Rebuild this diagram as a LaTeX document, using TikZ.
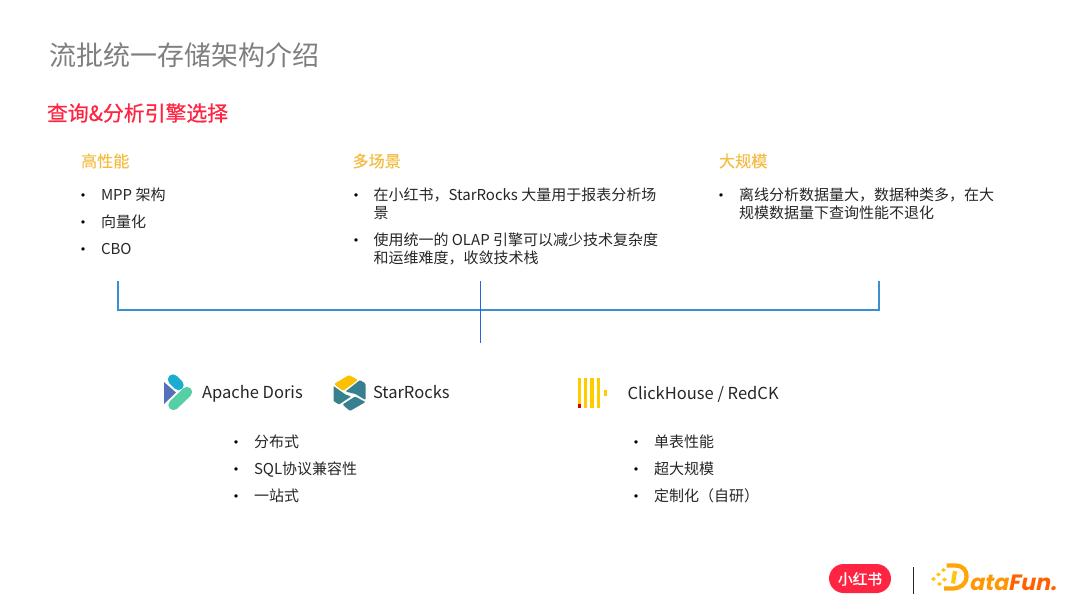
\documentclass[tikz,border=0pt]{standalone}
\usepackage{fontspec}
\setmainfont{Noto Sans CJK SC}
\newfontfamily\dfun{Poppins}
\newfontfamily\medsub[FakeBold=0.6]{Noto Sans CJK SC}
\newfontfamily\heavy[FakeBold=1.2]{Noto Sans CJK SC}
\newfontfamily\medhead[FakeBold=0.25]{Noto Sans CJK SC}
\definecolor{titlegray}{HTML}{7F7F7F}
\definecolor{redsub}{HTML}{FF2442}
\definecolor{headgold}{HTML}{F4BC42}
\definecolor{txt}{HTML}{262626}
\definecolor{linkblue}{HTML}{3A8FD0}
\definecolor{dblue}{HTML}{5470B8}
\definecolor{dcyan}{HTML}{1AADCF}
\definecolor{dgreen}{HTML}{55CFA5}
\definecolor{steal}{HTML}{36808F}
\definecolor{syellow}{HTML}{FBC000}
\definecolor{chy}{HTML}{FFCC00}
\definecolor{dforange}{HTML}{FF8A00}
\definecolor{dfyellow}{HTML}{FFC414}
\tikzset{
  x=0.75pt,y=-0.75pt,
  lab/.style={anchor=west,inner sep=0pt,outer sep=0pt,align=left},
  line/.style={anchor=base west,inner sep=0pt,outer sep=0pt},
  body/.style={line,text=txt,font=\fontsize{11.25pt}{13.5pt}\selectfont},
  bodytwo/.style={lab,text=txt,font=\fontsize{11.25pt}{13.5pt}\selectfont},
  head/.style={lab,text=headgold,font=\medhead\fontsize{12.1pt}{14pt}\selectfont},
  logotext/.style={line,text=txt,font=\fontsize{12.4pt}{15pt}\selectfont},
  bul/.style={anchor=base,inner sep=0pt,text=black,font=\fontsize{12pt}{12pt}\selectfont},
  conn/.style={draw=linkblue,line width=1.3pt},
}
\begin{document}
\begin{tikzpicture}
\useasboundingbox (0,0) rectangle (1080,608);
\node[lab,text=titlegray,font=\fontsize{20.25pt}{24pt}\selectfont] (title) at (49.5,55) {流批统一存储架构介绍};
\node[lab,text=redsub,font=\medsub\fontsize{15.65pt}{18pt}\selectfont] (sub) at (47,113) {查询\&分析引擎选择};

\node[head] (h1) at (81,161) {高性能};
\node[head] (h2) at (352.5,161) {多场景};
\node[head] (h3) at (719,161) {大规模};

\node[bul] (b11) at (83,201) {•};
\node[body] (t11) at (101,200) {MPP 架构};
\node[bul] (b12) at (83,228) {•};
\node[body] (t12) at (101,227) {向量化};
\node[bul] (b13) at (83,255) {•};
\node[body] (t13) at (101,254) {CBO};

\node[bul] (b21) at (356,201) {•};
\node[bodytwo] (t21) at (373.5,204) {在小红书，StarRocks 大量用于报表分析场\\景};
\node[bul] (b22) at (356,246) {•};
\node[bodytwo] (t22) at (373.5,249) {使用统一的 OLAP 引擎可以减少技术复杂度\\和运维难度，收敛技术栈};

\node[bul] (b31) at (721,201) {•};
\node[bodytwo] (t31) at (739,204) {离线分析数据量大，数据种类多，在大\\规模数据量下查询性能不退化};

% connector
\coordinate (ca) at (118,281);
\coordinate (cb) at (118,310);
\coordinate (cc) at (879,310);
\coordinate (cd) at (879,281);
\coordinate (ce) at (480.5,281);
\coordinate (cf) at (480.5,343);
\draw[conn,line join=miter] (ca) -- (cb) -- (cc) -- (cd);
\draw[draw=linkblue!70!blue,line width=0.9pt] (ce) -- (cf);

% Doris logo
\fill[dblue] (164,382) -- (176,392.5) -- (164,404) -- cycle;
\draw[dcyan,line width=7.8pt,line cap=round] (173,379.5) -- (178.5,385);
\draw[dgreen,line width=7.8pt,line cap=round] (187,392) -- (173.5,405);
\node[logotext] (n1) at (202,398.5) {Apache Doris};

% StarRocks logo
\fill[syellow,rounded corners=1pt] (334,384) -- (349,375) -- (358,380) -- (343,391) -- cycle;
\fill[steal,rounded corners=0.6pt] (333.5,386) -- (345.5,394.5) -- (351,396.5) -- (339,404.5) -- (333.5,401) -- cycle;
\fill[steal,rounded corners=0.8pt] (360,380) -- (365.5,383.5) -- (365.5,400) -- (355.5,394) -- (345.5,391.5) -- cycle;
\fill[steal,rounded corners=0.8pt] (342.5,404.5) -- (355,396.5) -- (365.5,402) -- (350,411) -- cycle;
\node[logotext] (n2) at (373,398.5) {StarRocks};

% ClickHouse logo
\foreach \xx in {577.8,583.6,590.2,597} \fill[chy] (\xx,378) rectangle +(3.4,30);
\fill[chy] (603.8,390) rectangle (607,396);
\fill[red!85!black] (577.8,403.8) rectangle (581.2,408);
\node[logotext] (n3) at (627.5,399) {ClickHouse / RedCK};

\node[bul] (b41) at (236,448) {•};
\node[body] (t41) at (254,447) {分布式};
\node[bul] (b42) at (236,475) {•};
\node[body] (t42) at (254,474) {SQL协议兼容性};
\node[bul] (b43) at (236,502) {•};
\node[body] (t43) at (254,501) {一站式};

\node[bul] (b51) at (636,448) {•};
\node[body] (t51) at (654,447) {单表性能};
\node[bul] (b52) at (636,475) {•};
\node[body] (t52) at (654,474) {超大规模};
\node[bul] (b53) at (636,502) {•};
\node[body] (t53) at (654,501) {定制化（自研）};

% footer logos
\fill[redsub,rounded corners=11pt] (829,564) rectangle (891,593);
\node[anchor=center,inner sep=0pt,text=white,font=\heavy\fontsize{11pt}{13pt}\selectfont] (xhs) at (860,579) {小红书};
\coordinate (sa) at (913.5,567);
\coordinate (sb) at (913.5,594);
\draw[draw=txt,line width=1.3pt] (sa) -- (sb);
\foreach \px/\py in {931/579, 936/574.5, 941/570, 937/584, 942/579.5}
  \fill[dfyellow] (\px,\py) -- +(2.5,-2) -- +(5,0) -- +(2.5,2) -- cycle;
\draw[draw=dforange!55!dfyellow,line width=3.2pt,line join=round] (946.5,565.5) -- (955,565.5) .. controls (963,565.5) and (967,570.5) .. (966.5,577) .. controls (966,584.5) and (960,588.5) .. (952,588.5) -- (944,588.5);
\draw[draw=dfyellow,line width=3.2pt] (955,571) -- (953,583.5);
\node[line,shift={(969,590)},xslant=0.2,transform shape,font=\dfun\fontsize{16.6pt}{20pt}\bfseries\selectfont] (df) at (0,0) {\textcolor{dforange!80!dfyellow}{ata}\textcolor{dforange!70!red}{Fun.}};
\end{tikzpicture}
\end{document}
